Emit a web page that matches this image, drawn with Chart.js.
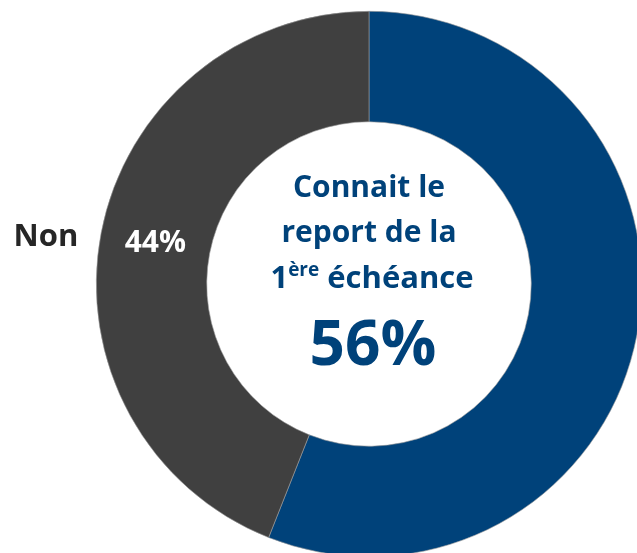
<!DOCTYPE html>
<html>
<head>
<meta charset="utf-8">
<script src="https://cdn.jsdelivr.net/npm/chart.js@4/dist/chart.umd.min.js"></script>
<style>
html,body{margin:0;padding:0;background:#fff;overflow:hidden;width:637px;height:553px;}
#wrap{position:absolute;left:0;top:0;width:700px;height:600px;}
</style>
</head>
<body>
<div id="wrap"><canvas id="c" width="700" height="600"></canvas></div>
<script>
const categories = ['Oui', 'Non'];
const values = [56, 44];
const colors = ['#00427A', '#404040'];
const centerLines = ['Connait le', 'report de la'];
const centerLine3 = ['1', 'ère', ' échéance'];
const centerValue = '56%';

const FONT = '"Open Sans", Lato, sans-serif';

const labelPlugin = {
  id: 'labels',
  afterDraw(chart) {
    const ctx = chart.ctx;
    const meta = chart.getDatasetMeta(0);
    const arc0 = meta.data[0];
    const cx = arc0.x, cy = arc0.y, R = arc0.outerRadius;
    ctx.save();
    const arc1 = meta.data[1];
    const p = arc1.tooltipPosition();
    ctx.fillStyle = '#ffffff';
    ctx.font = 'bold 30px ' + FONT;
    ctx.textAlign = 'center';
    ctx.textBaseline = 'middle';
    ctx.fillText(values[1] + '%', p.x, p.y);
    ctx.fillStyle = '#262626';
    ctx.font = 'bold 31px ' + FONT;
    ctx.textAlign = 'right';
    const ly = p.y - 6;
    const dy = ly - cy;
    const edgeX = cx - Math.sqrt(R * R - dy * dy);
    ctx.fillText(categories[1], edgeX - 22, ly);
    ctx.fillStyle = colors[0];
    ctx.textAlign = 'center';
    ctx.textBaseline = 'alphabetic';
    ctx.font = 'bold 30px ' + FONT;
    ctx.fillText(centerLines[0], cx, cy - 87);
    ctx.fillText(centerLines[1], cx, cy - 42);
    const big = 'bold 31px ' + FONT, small = 'bold 19px ' + FONT;
    ctx.font = big; const w1 = ctx.measureText(centerLine3[0]).width;
    const w3 = ctx.measureText(centerLine3[2]).width;
    ctx.font = small; const w2 = ctx.measureText(centerLine3[1]).width;
    let x = cx - (w1 + w2 + w3) / 2 + 3;
    ctx.textAlign = 'left';
    const by = cy + 4;
    ctx.font = big; ctx.fillText(centerLine3[0], x, by); x += w1;
    ctx.font = small; ctx.fillText(centerLine3[1], x, by - 12); x += w2;
    ctx.font = big; ctx.fillText(centerLine3[2], x, by);
    ctx.textAlign = 'center';
    ctx.font = 'bold 62px ' + FONT;
    ctx.fillText(centerValue, cx + 4, cy + 81);
    ctx.restore();
  }
};

new Chart(document.getElementById('c'), {
  type: 'doughnut',
  data: {
    labels: categories,
    datasets: [{
      data: values,
      backgroundColor: colors,
      borderColor: '#9a9a9a',
      borderWidth: 0.6,
      hoverOffset: 0
    }]
  },
  options: {
    responsive: false,
    animation: false,
    cutout: '59.5%',
    layout: { padding: { left: 96, top: 11, right: 58, bottom: 43 } },
    plugins: { legend: { display: false }, tooltip: { enabled: false } }
  },
  plugins: [labelPlugin]
});
</script>
</body>
</html>
